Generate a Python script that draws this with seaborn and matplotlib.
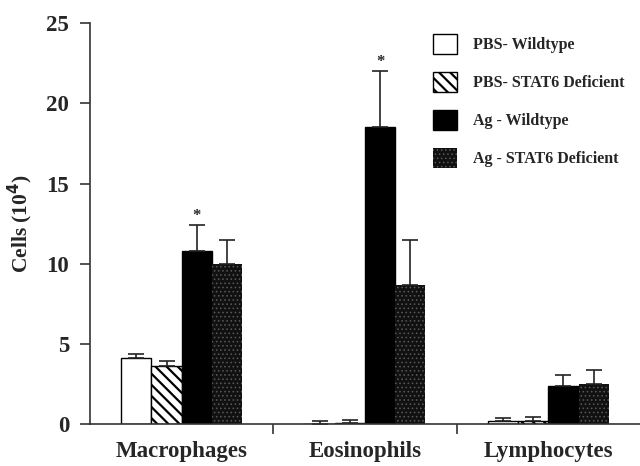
import numpy as np
import pandas as pd
import matplotlib
import matplotlib.pyplot as plt
import seaborn as sns
from matplotlib.patches import Patch

# values (cells x 10^4), mean and upper SEM
cell_types = ["Macrophages", "Eosinophils", "Lymphocytes"]
groups = ["PBS- Wildtype", "PBS- STAT6 Deficient", "Ag - Wildtype", "Ag - STAT6 Deficient"]
pbs_wt = [4.1, 0.03, 0.2]
pbs_stat6 = [3.6, 0.04, 0.2]
ag_wt = [10.8, 18.55, 2.35]
ag_stat6 = [10.0, 8.7, 2.5]
pbs_wt_err = [0.3, 0.17, 0.17]
pbs_stat6_err = [0.35, 0.21, 0.25]
ag_wt_err = [1.6, 3.45, 0.7]
ag_stat6_err = [1.5, 2.8, 0.9]

sns.set_style("ticks")
plt.rcParams["font.family"] = ["Liberation Serif", "DejaVu Serif"]
plt.rcParams["font.weight"] = "bold"
plt.rcParams["hatch.linewidth"] = 1.6

df = pd.DataFrame({
    "cell": cell_types * 4,
    "group": sum([[g] * 3 for g in groups], []),
    "value": pbs_wt + pbs_stat6 + ag_wt + ag_stat6,
    "err": pbs_wt_err + pbs_stat6_err + ag_wt_err + ag_stat6_err,
})

fig = plt.figure(figsize=(6.4, 4.66), dpi=100)
ax = fig.add_axes([0.1406, 0.09, 0.8594, 0.86])

sns.barplot(data=df, x="cell", y="value", hue="group", order=cell_types,
            hue_order=groups, width=0.66, gap=0, errorbar=None, legend=False,
            palette=["white", "white", "black", "#111111"], saturation=1, ax=ax)

# styling per group
stip = "#5a5a5a"
styles = [
    dict(fc="white", ec="black", hatch=None, lw=1.0),
    dict(fc="white", ec="black", hatch="\\\\\\", lw=1.0),
    dict(fc="black", ec="black", hatch=None, lw=1.0),
    dict(fc="#111111", ec=stip, hatch="....", lw=0.0),
]


def style_patch(p, st):
    p.set_facecolor(st["fc"])
    p.set_edgecolor(st["ec"])
    p.set_linewidth(st["lw"])
    if st["hatch"]:
        p.set_hatch(st["hatch"])
        if st["hatch"].startswith("."):
            try:
                p.set_hatch_linewidth(0.6)
            except AttributeError:
                pass


bars = ax.patches
for gi, st in enumerate(styles):
    for ci in range(len(cell_types)):
        style_patch(bars[gi * len(cell_types) + ci], st)

# one-sided error bars
for gi, g in enumerate(groups):
    sub = df[df["group"] == g]
    for ci in range(len(cell_types)):
        p = bars[gi * len(cell_types) + ci]
        xc = p.get_x() + p.get_width() / 2
        y = sub["value"].iloc[ci]
        e = sub["err"].iloc[ci]
        ax.errorbar(xc, y, yerr=[[0], [e]], fmt="none", ecolor="#222222",
                    elinewidth=1.2, capsize=6, capthick=1.2)

# significance marks over Ag - Wildtype
for ci in [0, 1]:
    p = bars[2 * len(cell_types) + ci]
    xc = p.get_x() + p.get_width() / 2
    ax.text(xc, ag_wt[ci] + ag_wt_err[ci] + 0.1, "*", ha="center", va="bottom",
            fontsize=12, fontweight="bold")

ax.set_xlim(-0.5, 2.5)
ax.set_ylim(0, 25)
ax.set_yticks([0, 5, 10, 15, 20, 25])
ax.set_xticks([0, 1, 2])
ax.set_xticklabels(cell_types, fontsize=16.5, fontweight="bold")
ax.set_xticks([0.5, 1.5], minor=True)
ax.tick_params(axis="x", which="major", length=0, pad=12)
ax.tick_params(axis="x", which="minor", length=7, width=1.2, color="#333333")
ax.tick_params(axis="y", labelsize=16.5, length=7, width=1.2, color="#333333", pad=8)
for lbl in ax.get_yticklabels():
    lbl.set_fontweight("bold")
ax.set_xlabel("")
ax.set_ylabel("Cells (10$^{\\mathbf{4}}$)", fontsize=15.5, fontweight="bold", labelpad=8)
for s in ["left", "bottom"]:
    ax.spines[s].set_linewidth(1.2)
    ax.spines[s].set_color("#333333")
sns.despine(ax=ax)

handles = []
for st in styles:
    h = Patch(facecolor=st["fc"], edgecolor=st["ec"], linewidth=st["lw"], hatch=st["hatch"])
    handles.append(h)
leg = ax.legend(handles, groups, loc="upper left", bbox_to_anchor=(0.603, 1.0), frameon=False,
                prop={"size": 11.5, "weight": "bold"}, handlelength=1.5, handleheight=1.5,
                labelspacing=1.15, handletextpad=1.0, borderaxespad=0.3)
for h in leg.legend_handles:
    if h.get_hatch() and h.get_hatch().startswith("."):
        try:
            h.set_hatch_linewidth(0.6)
        except AttributeError:
            pass

fig.savefig("out.png", dpi=100)
